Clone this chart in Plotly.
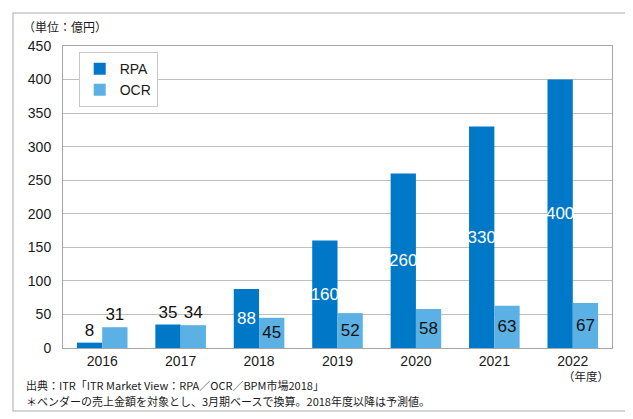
import plotly.graph_objects as go

years = ["2016", "2017", "2018", "2019", "2020", "2021", "2022"]
rpa = [8, 35, 88, 160, 260, 330, 400]
ocr = [31, 34, 45, 52, 58, 63, 67]

unitLabel = "（単位：億円）"
yearLabel = "（年度）"
sourceNote = "出典：ITR「ITR Market View：RPA／OCR／BPM市場2018」"
footNote = "＊ベンダーの売上金額を対象とし、3月期ベースで換算。2018年度以降は予測値。"

numFont = "Liberation Sans Narrow, Arial Narrow, Liberation Sans, Arial"
jpFont = "Noto Sans CJK JP, Noto Sans"

# small bars get their label on top, the rest inside
def labelPos(values):
    return ["outside" if v < 40 else "inside" for v in values]

fig = go.Figure()
fig.add_trace(go.Bar(
    x=years, y=rpa, name="RPA",
    marker=dict(color="#0078C8", line=dict(width=0)),
    text=[str(v) for v in rpa],
    textposition=labelPos(rpa),
    textangle=0,
    insidetextanchor="middle",
    insidetextfont=dict(color="white", size=17, family=numFont),
    outsidetextfont=dict(color="#111111", size=17, family=numFont),
    cliponaxis=False,
))
fig.add_trace(go.Bar(
    x=years, y=ocr, name="OCR",
    marker=dict(color="#5BB1E4", line=dict(width=0)),
    text=[str(v) for v in ocr],
    textposition=labelPos(ocr),
    textangle=0,
    insidetextanchor="middle",
    insidetextfont=dict(color="#111111", size=17, family=numFont),
    outsidetextfont=dict(color="#111111", size=17, family=numFont),
    cliponaxis=False,
))

axisLine = dict(showline=True, linecolor="#A6A6A6", linewidth=1, mirror=True)

fig.update_layout(
    width=633, height=419,
    margin=dict(l=55, r=29, t=38, b=79),
    paper_bgcolor="white", plot_bgcolor="white",
    barmode="group", bargap=0.355, bargroupgap=0,
    font=dict(family="Liberation Sans, Arial", size=13, color="#1a1a1a"),
    uniformtext=dict(minsize=17, mode="show"),
    xaxis=dict(**axisLine, tickfont=dict(size=14), ticks="", ticklabelstandoff=0),
    yaxis=dict(**axisLine, range=[0, 450], dtick=50, showgrid=True,
               gridcolor="#BFBFBF", gridwidth=1, zeroline=False,
               tickfont=dict(size=14), ticklabelstandoff=8),
    legend=dict(x=0.0286, y=0.98, xanchor="left", yanchor="top",
                bgcolor="white", bordercolor="#C8C8C8", borderwidth=1,
                font=dict(size=14), itemclick=False),
    showlegend=True,
)

fig.add_shape(type="rect", xref="paper", yref="paper",
              x0=-0.0911, x1=1.029, y0=-0.2086, y1=1.109,
              line=dict(color="#C8C8C8", width=1.5), layer="below")

fig.add_annotation(text=unitLabel, xref="paper", yref="paper", x=-0.0765, y=1.063,
                   xanchor="left", yanchor="middle", showarrow=False,
                   font=dict(family=jpFont, size=12))
fig.add_annotation(text=yearLabel, xref="paper", yref="paper", x=0.998, y=-0.094,
                   xanchor="right", yanchor="middle", showarrow=False,
                   font=dict(family=jpFont, size=11.5))
fig.add_annotation(text=sourceNote, xref="paper", yref="paper", x=-0.071, y=-0.121,
                   xanchor="left", yanchor="middle", showarrow=False,
                   font=dict(family=jpFont, size=11))
fig.add_annotation(text=footNote, xref="paper", yref="paper", x=-0.071, y=-0.1765,
                   xanchor="left", yanchor="middle", showarrow=False,
                   font=dict(family=jpFont, size=11))

fig.write_html("out.html")
